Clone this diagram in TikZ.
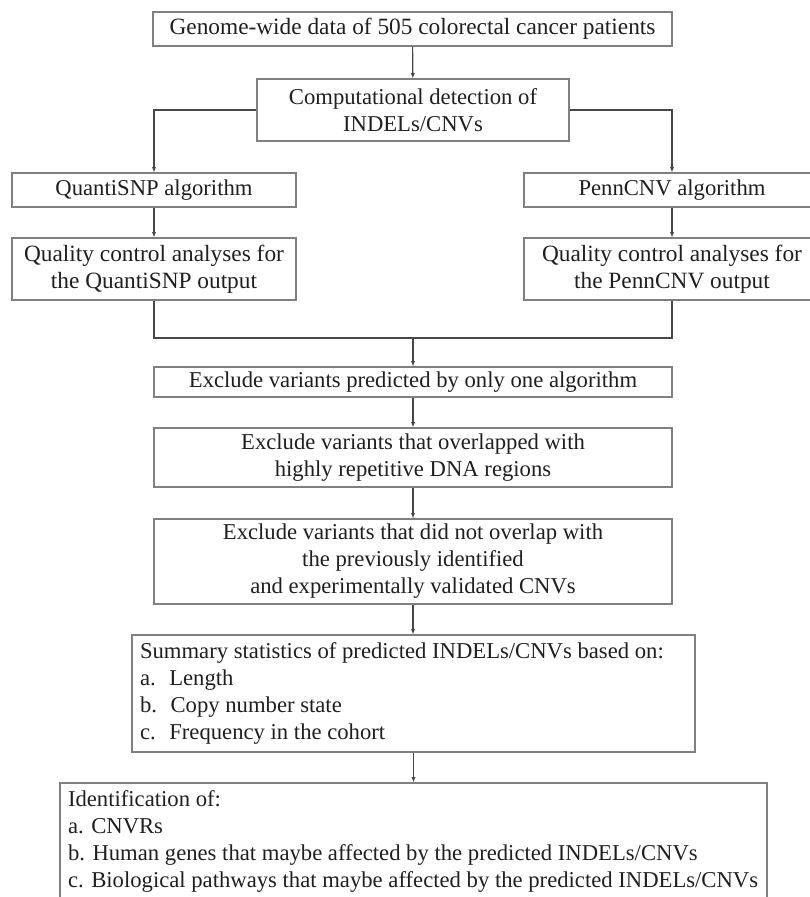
\documentclass[tikz,border=0pt]{standalone}
\usepackage{fontspec}
\setmainfont{Liberation Serif}
\usetikzlibrary{arrows.meta}

\definecolor{boxgray}{gray}{0.5}
\definecolor{linegray}{gray}{0.28}
\definecolor{textgray}{gray}{0.12}
\newcommand{\pxu}{0.75pt}

\tikzset{
    box/.style={draw=boxgray, line width=0.8pt, rectangle, inner sep=0pt,
        align=center, text=textgray, font=\fontsize{17}{20.3}\selectfont},
    bigbox/.style={box, font=\fontsize{17.5}{20.3}\selectfont},
    listbox/.style={box, align=flush left, inner xsep=6pt},
    arr/.style={draw=linegray, line width=0.9pt, -{Latex[length=4pt,width=3.2pt]}},
    link/.style={draw=linegray, line width=0.9pt}
}

\begin{document}
\begin{tikzpicture}[x=0.75pt, y=-0.75pt]
    \useasboundingbox (0, 0) rectangle (810, 897);
    \clip (0, 0) rectangle (810, 897);
    \node [bigbox, minimum width=519*\pxu, minimum height=34*\pxu]
        (genome) at (412.5, 29) {Genome-wide data of 505 colorectal cancer patients};
    \node [box, minimum width=312*\pxu, minimum height=62*\pxu]
        (detect) at (413, 110) {Computational detection of\\INDELs/CNVs};
    \node [box, minimum width=284*\pxu, minimum height=34*\pxu]
        (quanti) at (154, 190) {QuantiSNP algorithm};
    \node [bigbox, minimum width=284*\pxu, minimum height=62*\pxu]
        (qcquanti) at (154, 269) {Quality control analyses for\\the QuantiSNP output};
    \node [box, minimum width=296*\pxu, minimum height=34*\pxu]
        (penn) at (672, 190) {PennCNV algorithm};
    \node [bigbox, minimum width=296*\pxu, minimum height=62*\pxu]
        (qcpenn) at (672, 269) {Quality control analyses for\\the PennCNV output};
    \coordinate (merge) at (413, 338);
    \node [box, minimum width=518*\pxu, minimum height=30*\pxu]
        (onealg) at (413, 382) {Exclude variants predicted by only one algorithm};
    \node [box, minimum width=518*\pxu, minimum height=59*\pxu]
        (repeat) at (413, 457.5) {Exclude variants that overlapped with\\highly repetitive DNA regions};
    \node [box, minimum width=518*\pxu, minimum height=85*\pxu]
        (known) at (413, 561.5) {Exclude variants that did not overlap with\\the previously identified\\and experimentally validated CNVs};
    \node [listbox, text width=547*\pxu, minimum height=117*\pxu]
        (summary) at (413.5, 693.5) {Summary statistics of predicted INDELs/CNVs based on:\\
        a.\hspace{0.6em}Length\\
        b.\hspace{0.6em}Copy number state\\
        c.\hspace{0.6em}Frequency in the cohort};
    \node [listbox, text width=691*\pxu, minimum height=117*\pxu]
        (ident) at (413.5, 841.5) {Identification of:\\
        a. CNVRs\\
        b. Human genes that maybe affected by the predicted INDELs/CNVs\\
        c. Biological pathways that maybe affected by the predicted INDELs/CNVs};
    \draw [arr] (genome) -- (detect);
    \draw [arr] (detect.west) -| (quanti.north);
    \draw [arr] (detect.east) -| (penn.north);
    \draw [arr] (quanti) -- (qcquanti);
    \draw [arr] (penn) -- (qcpenn);
    \draw [link] (qcquanti.south) |- (merge) -| (qcpenn.south);
    \draw [arr] (merge) -- (onealg);
    \draw [arr] (onealg) -- (repeat);
    \draw [arr] (repeat) -- (known);
    \draw [arr] (known.south) -- (known.south |- summary.north);
    \draw [arr] (summary) -- (ident);
\end{tikzpicture}
\end{document}
